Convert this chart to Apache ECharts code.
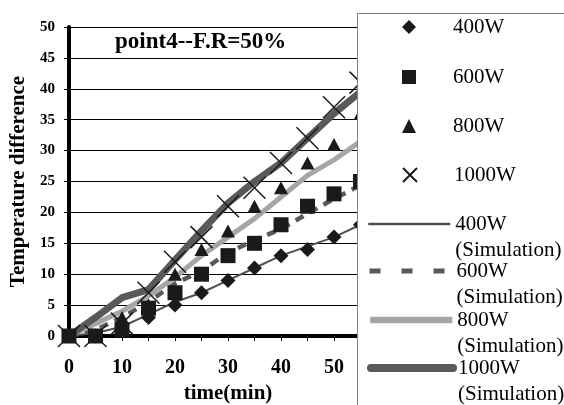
<!DOCTYPE html>
<html>
<head>
<meta charset="utf-8">
<script src="https://cdn.jsdelivr.net/npm/echarts@6/dist/echarts.min.js"></script>
<style>
html,body{margin:0;padding:0;background:#fff;}
#chart{width:564px;height:405px;}
</style>
</head>
<body>
<div id="chart"></div>
<script>
// ---- data ----
var times = [0, 5, 10, 15, 20, 25, 30, 35, 40, 45, 50, 55];
var meas400 = [0, 0, 1, 3, 5, 7, 9, 11, 13, 14, 16, 18];
var meas600 = [0, 0, 1, 4.5, 7, 10, 13, 15, 18, 21, 23, 25];
var meas800 = [0, 0, 3, 5, 10, 14, 17, 21, 24, 28, 31, 36];
var meas1000 = [0, 0, 2, 7, 12, 16, 21, 24, 28, 32, 37, 41];
var sim400 = [0, 0.5, 1.5, 3.5, 5.5, 7, 9, 11, 13, 14.5, 16, 18];
var sim600 = [0, 1, 3, 5.5, 8.5, 10.5, 13.5, 15.5, 17.3, 19.8, 22.2, 24.4];
var sim800 = [0, 2, 4, 6.5, 9.5, 13, 16, 19, 22.5, 26, 28.5, 31.5];
var sim1000 = [0, 3, 6.2, 7.5, 12.3, 17, 21.5, 25, 28, 32, 36, 39.5];
var titleText = 'point4--F.R=50%';
var xName = 'time(min)';
var yName = 'Temperature difference';
var measNames = ['400W', '600W', '800W', '1000W'];
var simNames = ['400W (Simulation)', '600W (Simulation)', '800W (Simulation)', '1000W (Simulation)'];

function pairs(vals) { return times.map(function (t, i) { return [t, vals[i]]; }); }

var FONT = 'Liberation Serif';
var chart = echarts.init(document.getElementById('chart'), null, {renderer: 'canvas'});
var crossPath = 'path://M0,0L10,10M10,0L0,10';
var mk = '#1a1a1a';

// legend layout (one legend per entry)
var measCenters = [27, 77, 126, 175];
var simCenters = [224, 271, 320, 368];
var simLegendLine = [
  {width: 2.5},
  {width: 5, type: [11, 21]},
  {width: 6.5},
  {width: 8, cap: 'round'}
];
var legends = [];
measNames.forEach(function (n, i) {
  legends.push({
    z: 200, orient: 'vertical', left: 402, top: measCenters[i] - 10.5, padding: 0,
    itemWidth: 14, itemHeight: 14,
    formatter: function (name) { return '{p| }{a|' + name + '}'; },
    textStyle: {color: '#000', rich: {
      p: {width: 32, fontSize: 21, lineHeight: 21, fontFamily: FONT},
      a: {fontFamily: FONT, fontSize: 21, lineHeight: 21, color: '#000'}
    }},
    data: [n]
  });
});
simNames.forEach(function (n, i) {
  legends.push({
    z: 200, orient: 'vertical', left: 367, top: simCenters[i] - 39, padding: 0,
    itemWidth: 82, itemHeight: 14,
    textStyle: {fontFamily: FONT, fontSize: 21, color: '#000', lineHeight: 26},
    formatter: function (name) { return ' \n' + name.replace(' ', '\n'); },
    data: [{name: n, itemStyle: {opacity: 0}, lineStyle: simLegendLine[i]}]
  });
});

var option = {
  animation: false,
  backgroundColor: '#fff',
  title: {
    text: titleText, left: 115, top: 31, padding: 0,
    textStyle: {fontFamily: FONT, fontWeight: 'bold', fontSize: 23, color: '#000'}
  },
  graphic: [{
    type: 'rect', z: 100, shape: {x: 357.5, y: 13.5, width: 300, height: 500},
    style: {fill: '#fff', stroke: '#808080', lineWidth: 1}
  }],
  legend: legends,
  grid: {left: 69, top: 27, right: 177, bottom: 69, outerBoundsMode: 'none', containLabel: false},
  xAxis: [{
    type: 'value', min: 0, max: 60, interval: 5, position: 'bottom',
    name: xName, nameLocation: 'middle', nameGap: 32,
    nameTextStyle: {fontFamily: FONT, fontWeight: 'bold', fontSize: 21, color: '#000'},
    axisLine: {onZero: false, lineStyle: {color: '#000', width: 4}},
    axisTick: {show: true, inside: false, length: 5, lineStyle: {color: '#000', width: 1}},
    axisLabel: {margin: 22, fontFamily: FONT, fontWeight: 'bold', fontSize: 20, color: '#000',
      formatter: function (v) { return v % 10 === 0 ? String(v) : ''; }},
    splitLine: {show: false}
  }, {
    type: 'value', min: 0, max: 60, position: 'top',
    axisLine: {show: true, lineStyle: {color: '#000', width: 4}},
    axisTick: {show: false}, axisLabel: {show: false}, splitLine: {show: false}
  }],
  yAxis: {
    type: 'value', min: 0, max: 50, interval: 5,
    name: yName, nameLocation: 'middle', nameGap: 40,
    nameTextStyle: {fontFamily: FONT, fontWeight: 'bold', fontSize: 21, color: '#000'},
    axisLine: {show: true, lineStyle: {color: '#000', width: 4}},
    axisTick: {show: true, length: 5, lineStyle: {color: '#000'}},
    axisLabel: {margin: 14, fontFamily: FONT, fontWeight: 'bold', fontSize: 15, color: '#000'},
    splitLine: {show: true, lineStyle: {color: '#000', width: 1}}
  },
  series: [
    {name: simNames[0], type: 'line', symbol: 'none', z: 3, data: pairs(sim400),
      lineStyle: {color: '#505050', width: 2}, itemStyle: {color: '#505050'}},
    {name: simNames[1], type: 'line', symbol: 'none', z: 3, data: pairs(sim600),
      lineStyle: {color: '#595959', width: 4.5, type: [9, 7]}, itemStyle: {color: '#595959'}},
    {name: simNames[2], type: 'line', symbol: 'none', z: 3, data: pairs(sim800),
      lineStyle: {color: '#a6a6a6', width: 5}, itemStyle: {color: '#a6a6a6'}},
    {name: simNames[3], type: 'line', symbol: 'none', z: 3, data: pairs(sim1000),
      lineStyle: {color: '#595959', width: 7, cap: 'round', join: 'round'}, itemStyle: {color: '#595959'}},
    {name: measNames[0], type: 'scatter', symbol: 'diamond', symbolSize: 15, z: 5, clip: false,
      data: pairs(meas400), itemStyle: {color: mk, opacity: 1}},
    {name: measNames[1], type: 'scatter', symbol: 'rect', symbolSize: 15, z: 5, clip: false,
      data: pairs(meas600), itemStyle: {color: mk, opacity: 1}},
    {name: measNames[2], type: 'scatter', symbol: 'triangle', symbolSize: [14, 13], z: 5, clip: false,
      data: pairs(meas800), itemStyle: {color: mk, opacity: 1}},
    {name: measNames[3], type: 'scatter', symbol: crossPath, symbolSize: 22, z: 5, clip: false,
      data: pairs(meas1000), itemStyle: {color: 'rgba(0,0,0,0)', borderColor: mk, borderWidth: 1.5, opacity: 1}}
  ]
};
chart.setOption(option);
</script>
</body>
</html>
